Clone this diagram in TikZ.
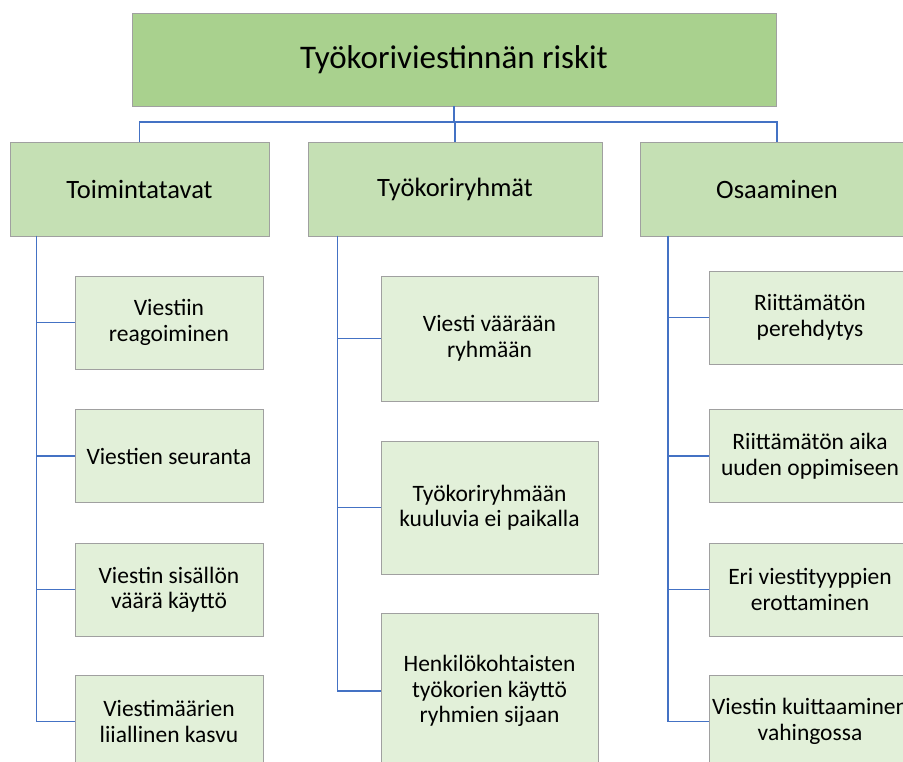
\documentclass[tikz,border=0pt]{standalone}
\usepackage{fontspec}
\setmainfont{Carlito}
\definecolor{rootfill}{HTML}{A9D18E}
\definecolor{midfill}{HTML}{C5E0B4}
\definecolor{leaffill}{HTML}{E2F0D9}
\definecolor{boxline}{HTML}{A0A0A0}
\definecolor{link}{HTML}{4472C4}
\tikzset{
  box/.style={draw=boxline, line width=0.8pt, rectangle, inner sep=0pt, align=center, text=black},
  rootbox/.style={box, fill=rootfill, font=\fontsize{33}{39}\selectfont},
  midbox/.style={box, fill=midfill, minimum height=94pt, font=\fontsize{26.5}{31}\selectfont},
  leafbox/.style={box, fill=leaffill, font=\fontsize{23.5}{25.5}\selectfont},
  conn/.style={draw=link, line width=1.3pt}
}
\begin{document}
\begin{tikzpicture}[x=1pt, y=-1pt]
\useasboundingbox (0,0) rectangle (903,762);
\clip (0,0) rectangle (903,762);

% top level
\node[rootbox, minimum width=644pt, minimum height=93pt] (root) at (454,59.5) {Työkoriviestinnän riskit};

% second level
\node[midbox, minimum width=259pt] (t1) at (139.5,189) {Toimintatavat};
\node[midbox, minimum width=294pt] (t2) at (455,189) {Työkoriryhmät};
\node[midbox, minimum width=274pt] (t3) at (777,189) {Osaaminen};

% Toimintatavat
\node[leafbox, minimum width=188pt, minimum height=93pt] (a1) at (169,322.5) {Viestiin\\reagoiminen};
\node[leafbox, minimum width=188pt, minimum height=93pt] (a2) at (169,456) {Viestien seuranta};
\node[leafbox, minimum width=188pt, minimum height=93pt] (a3) at (169,589.5) {Viestin sisällön\\väärä käyttö};
\node[leafbox, minimum width=188pt, minimum height=93pt] (a4) at (169,721.5) {Viestimäärien\\liiallinen kasvu};

% Työkoriryhmät
\node[leafbox, minimum width=217pt, minimum height=125pt] (b1) at (489.5,338.5) {Viesti väärään\\ryhmään};
\node[leafbox, minimum width=217pt, minimum height=133pt] (b2) at (489.5,507.5) {Työkoriryhmään\\kuuluvia ei paikalla};
\node[leafbox, minimum width=217pt, minimum height=156pt] (b3) at (489.5,691) {Henkilökohtaisten\\työkorien käyttö\\ryhmien sijaan};

% Osaaminen
\node[leafbox, minimum width=202pt, minimum height=93pt] (c1) at (810,317.5) {Riittämätön\\perehdytys};
\node[leafbox, minimum width=202pt, minimum height=93pt] (c2) at (810,456) {Riittämätön aika\\uuden oppimiseen};
\node[leafbox, minimum width=202pt, minimum height=93pt] (c3) at (810,589.5) {Eri viestityyppien\\erottaminen};
\node[leafbox, minimum width=202pt, minimum height=93pt] (c4) at (810,721.5) {Viestin kuittaaminen\\vahingossa};

% connectors from the top box
\coordinate (bus) at (0,122);
\draw[conn] (root.south) -- (root.south |- bus);
\draw[conn] (t1.north) -- (t1.north |- bus) -- (t3.north |- bus) -- (t3.north);
\draw[conn] (t2.north |- bus) -- (t2.north);

% spines of the second level
\coordinate (sa) at (36.7,236);
\coordinate (sb) at (337.5,236);
\coordinate (sc) at (668,236);
\foreach \n in {a1,a2,a3,a4} \draw[conn] (sa) |- (\n.west);
\foreach \n in {b1,b2,b3} \draw[conn] (sb) |- (\n.west);
\foreach \n in {c1,c2,c3,c4} \draw[conn] (sc) |- (\n.west);
\end{tikzpicture}
\end{document}
